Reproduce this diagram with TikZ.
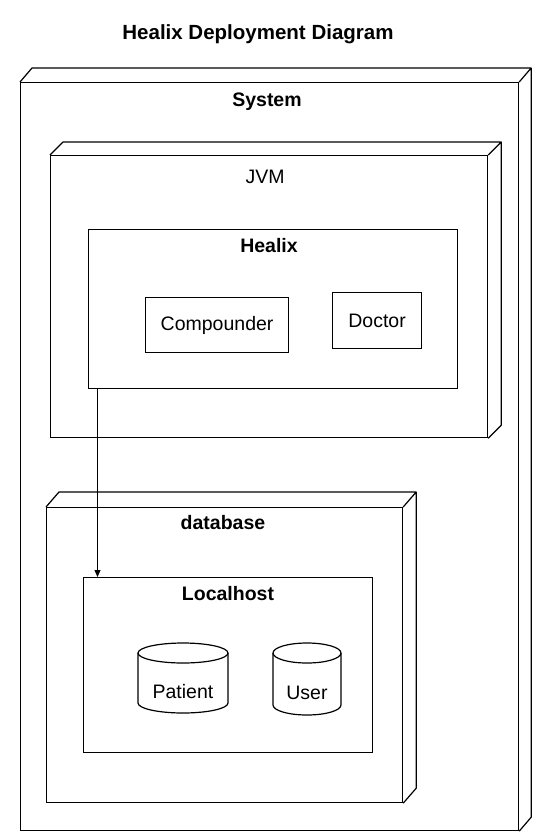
\documentclass[tikz,border=0pt]{standalone}
\usepackage{fontspec}
\setmainfont{Liberation Sans}
\usetikzlibrary{arrows.meta,calc}
\newcommand\solidbox[3]{%
  \draw[line join=round] (#1.north west) -- ++(#2,-#3) -- ($(#1.north east)+(#2,-#3)$) -- (#1.north east)
    ($(#1.north east)+(#2,-#3)$) -- ($(#1.south east)+(#2,-#3)$) -- (#1.south east);}
\begin{document}
\begin{tikzpicture}[x=1pt,y=-1pt, line width=1.2pt,
  box/.style={draw, rectangle, anchor=north west, inner sep=0pt},
  lbl/.style={font=\fontsize{19.5}{22}\selectfont\bfseries, inner sep=0pt},
  txt/.style={font=\fontsize{19.5}{22}\selectfont, inner sep=0pt},
  arr/.style={line width=0.9pt, -{Triangle[length=7pt,width=6pt]}}]
\useasboundingbox (0,0) rectangle (539,839);
\fill[white] (0,0) rectangle (539,839);

\node[lbl, font=\fontsize{20.5}{24}\selectfont\bfseries] (title) at (258,34) {Healix Deployment Diagram};

% System
\node[box, minimum width=498pt, minimum height=748pt] (sys) at (20,82) {};
\solidbox{sys}{12}{14}
\node[lbl] (syslbl) at (267,102) {System};

% JVM
\node[box, minimum width=437pt, minimum height=282pt] (jvm) at (50,155) {};
\solidbox{jvm}{13}{13}
\node[txt] (jvmlbl) at (265,177) {JVM};

% Healix
\node[box, minimum width=369pt, minimum height=159pt] (healix) at (88,229) {};
\node[lbl] (healixlbl) at (269,246) {Healix};
\node[box, minimum width=143pt, minimum height=55pt, font=\fontsize{19.5}{22}\selectfont] (comp) at (145,297) {Compounder};
\node[box, minimum width=89pt, minimum height=56pt, font=\fontsize{19.5}{22}\selectfont] (doc) at (332,292) {Doctor};

% database
\node[box, minimum width=356pt, minimum height=295pt] (db) at (46,507) {};
\solidbox{db}{13}{15}
\node[lbl] (dblbl) at (223,523) {database};

% Localhost
\node[box, minimum width=289pt, minimum height=175pt] (lh) at (83,577) {};
\node[lbl] (lhlbl) at (228,594) {Localhost};

% Patient cylinder
\draw (138,653) -- (138,703) arc[start angle=180,end angle=0,x radius=45,y radius=10] -- (228,653);
\draw (183,653) ellipse [x radius=45, y radius=10];
\node[txt] (patient) at (183,692) {Patient};

% User cylinder
\draw (273,653) -- (273,705) arc[start angle=180,end angle=0,x radius=34,y radius=10] -- (341,653);
\draw (307,653) ellipse [x radius=34, y radius=10];
\node[txt] (user) at (307,693) {User};

% connector
\draw[arr] ([xshift=9.5pt]healix.south west) -- ([xshift=14.5pt]lh.north west);
\end{tikzpicture}
\end{document}
